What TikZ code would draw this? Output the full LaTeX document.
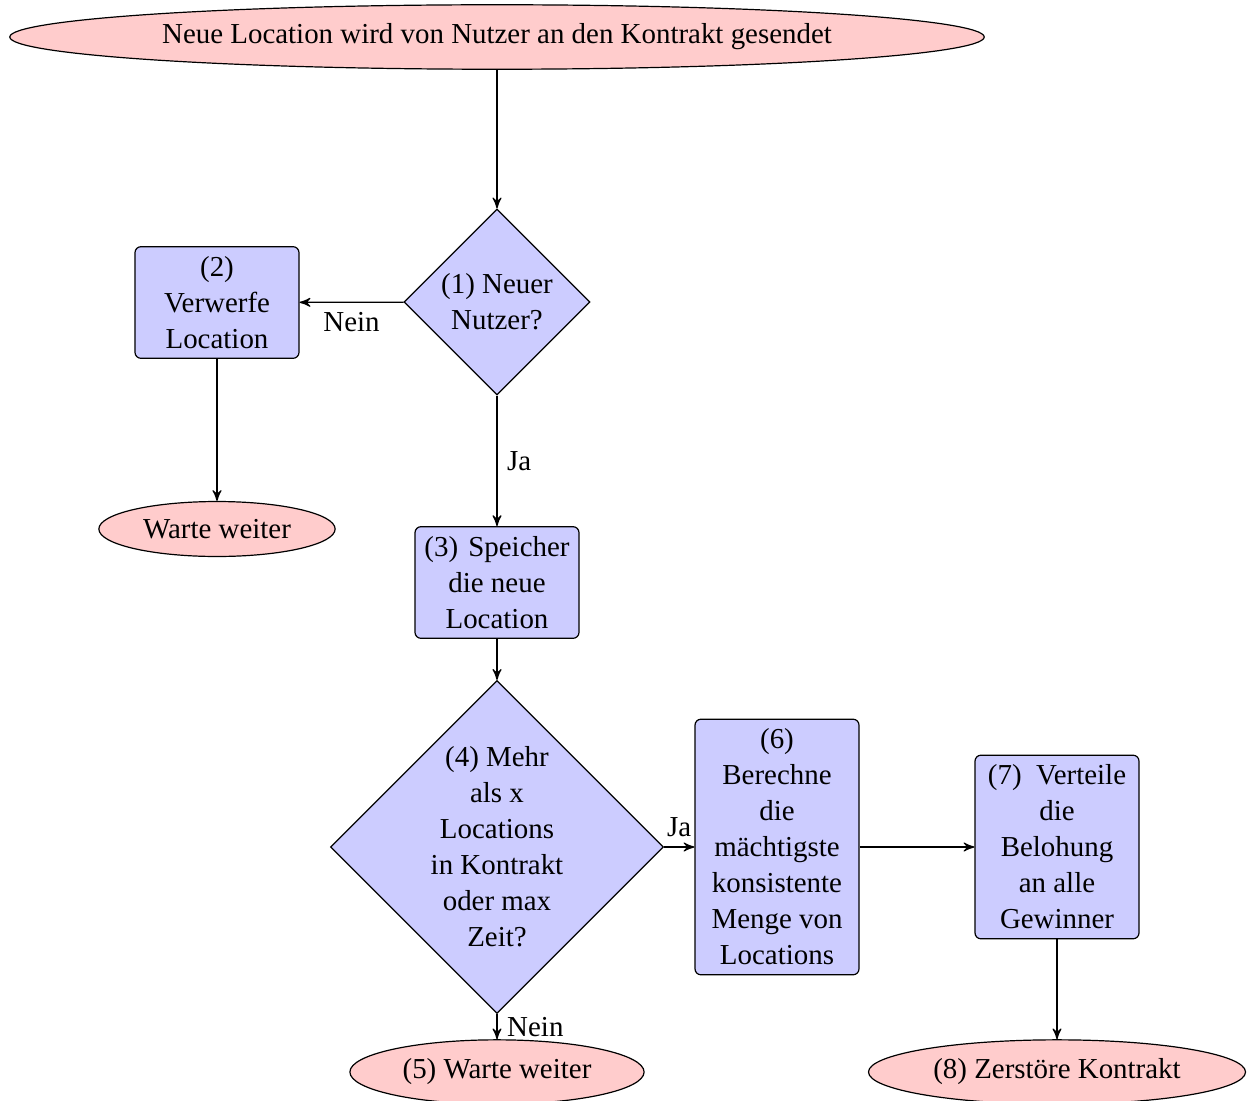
\documentclass[tikz,border=0pt]{standalone}
\usepackage{fontspec}
\setmainfont{Liberation Serif}[Scale=0.964]
\usetikzlibrary{shapes.geometric,arrows}
\begin{document}
\begin{tikzpicture}[x=0.33333pt,y=-0.33333pt,
  startstop/.style={ellipse, draw, fill=red!20},
  process/.style={rectangle, draw, fill=blue!20, rounded corners=2pt, align=center, minimum width=54.67pt},
  decision/.style={diamond, draw, fill=blue!20, aspect=1, align=center, inner sep=0pt},
  line/.style={draw, -stealth'}]
\useasboundingbox (0,0) rectangle (1249,1100);
\node[startstop] (top) at (497,37) {Neue Location wird von Nutzer an den Kontrakt gesendet};
\node[decision, minimum size=62pt] (d1) at (497,302) {(1) Neuer\\Nutzer?};
\node[process] (b2) at (217,302.5) {(2)\\Verwerfe\\Location};
\node[startstop] (e2) at (217,529) {Warte weiter};
\node[process, inner xsep=2.6pt] (b3) at (497,582.5) {(3)\hspace{3.4pt}Speicher\\die neue\\Location};
\node[decision, minimum size=110.7pt] (d4) at (497,847) {(4) Mehr\\als x\\Locations\\in Kontrakt\\oder max\\Zeit?};
\node[process] (b6) at (777,847) {(6)\\Berechne\\die\\mächtigste\\konsistente\\Menge von\\Locations};
\node[process] (b7) at (1057,847) {(7)~~Verteile\\die\\Belohung\\an alle\\Gewinner};
\node[startstop] (e5) at (497,1072) {(5) Warte weiter};
\node[startstop] (e8) at (1057,1072) {(8) Zerstöre Kontrakt};
\path[line] (top) -- (d1);
\path[line] (d1) -- node[below] {Nein} (b2);
\path[line] (d1) -- node[right] {Ja} (b3);
\path[line] (b2) -- (e2);
\path[line] (b3) -- (d4);
\path[line] (d4) -- node[above] {Ja} (b6);
\path[line] (d4) -- node[right] {Nein} (e5);
\path[line] (b6) -- (b7);
\path[line] (b7) -- (e8);
\end{tikzpicture}
\end{document}
